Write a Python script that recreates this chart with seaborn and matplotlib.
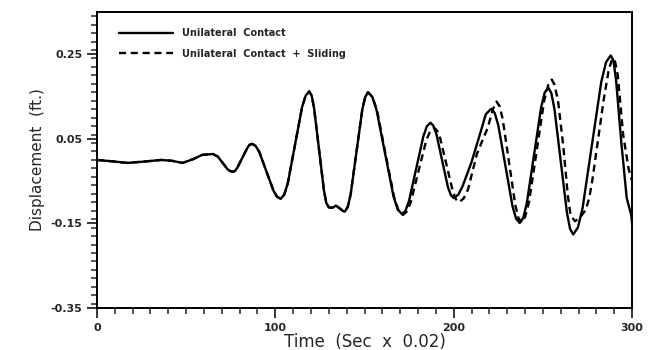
import numpy as np
import pandas as pd
import seaborn as sns
import matplotlib.pyplot as plt
from matplotlib.ticker import MultipleLocator, FixedLocator

# values (time step, displacement in ft.)
t_early = [0, 8, 17, 26, 36, 42, 48, 54, 59, 65, 67.75, 70.5, 73.25, 74.6,
           76, 77.4, 78.75, 81.5, 84.25, 85.6, 87, 89, 91, 95, 99, 101, 103,
           105, 107, 111, 115, 117, 119, 120.4, 121.75, 124.5, 127.25, 128.6,
           130, 132, 134, 136, 138, 139, 140.6, 142.25, 145.5, 148.75, 150.4,
           152]
d_early = [0.0, -0.003, -0.007, -0.004, 0.0, -0.002, -0.007, 0.002, 0.012,
           0.014, 0.008, -0.007, -0.022, -0.026, -0.028, -0.026, -0.018,
           0.005, 0.028, 0.036, 0.038, 0.033, 0.019, -0.027, -0.073, -0.087,
           -0.092, -0.082, -0.055, 0.035, 0.125, 0.152, 0.162, 0.152, 0.122,
           0.025, -0.072, -0.102, -0.112, -0.113, -0.108, -0.114, -0.121,
           -0.122, -0.111, -0.081, 0.019, 0.119, 0.149, 0.160]

t_contact_late = [154.4, 156.75, 161.5, 166.25, 168.6, 171, 173, 175, 179,
                  183, 185, 187, 188.6, 190.25, 193.5, 196.75, 198.4, 200,
                  202.6, 205, 210, 215, 218, 221, 223, 225, 229, 233, 235,
                  237, 239, 241, 245, 249, 251, 253, 254.75, 256.5, 260,
                  263.5, 265.25, 267, 269.6, 272.25, 277.5, 282.75, 285.4,
                  288, 289.5, 291, 294, 297, 299.5, 300]
d_contact_late = [0.149, 0.118, 0.016, -0.086, -0.117, -0.128, -0.120,
                  -0.096, -0.02, 0.056, 0.080, 0.088, 0.081, 0.062, -0.001,
                  -0.064, -0.083, -0.090, -0.082, -0.062, -0.005, 0.065,
                  0.108, 0.121, 0.111, 0.082, -0.014, -0.110, -0.139, -0.149,
                  -0.137, -0.102, 0.011, 0.124, 0.159, 0.171, 0.158, 0.12,
                  -0.003, -0.125, -0.163, -0.176, -0.16, -0.114, 0.036, 0.185,
                  0.231, 0.247, 0.236, 0.19, 0.04, -0.09, -0.13, -0.15]

t_sliding_late = [154.4, 157, 161.75, 166.6, 169, 171.5, 173.7, 175.9,
                  180.25, 184.6, 186.8, 189, 190.75, 192.5, 196, 199.5,
                  201.25, 203, 205.6, 208, 213, 216, 219, 222, 224, 225.75,
                  227.5, 231, 234.5, 236.25, 238, 240, 242.25, 246.5, 250.75,
                  253, 255, 256.5, 258.5, 261.5, 264, 265.5, 268, 271, 274,
                  276, 278, 281, 284, 287, 289, 290.5, 292, 295, 298, 300]
d_sliding_late = [0.149, 0.118, 0.015, -0.088, -0.119, -0.13, -0.122, -0.1,
                  -0.027, 0.046, 0.068, 0.076, 0.069, 0.05, -0.012, -0.074,
                  -0.093, -0.10, -0.091, -0.07, 0.014, 0.045, 0.075, 0.12,
                  0.138, 0.127, 0.096, -0.005, -0.106, -0.137, -0.148,
                  -0.135, -0.099, 0.021, 0.141, 0.177, 0.19, 0.178, 0.14,
                  0.03, -0.085, -0.13, -0.145, -0.135, -0.118, -0.09, -0.04,
                  0.05, 0.14, 0.215, 0.24, 0.232, 0.2, 0.06, -0.02, -0.05]

labels = ["Unilateral  Contact", "Unilateral  Contact  +  Sliding"]

df = pd.concat([
    pd.DataFrame({"t": t_early + t_contact_late,
                  "d": d_early + d_contact_late, "case": labels[0]}),
    pd.DataFrame({"t": t_early + t_sliding_late,
                  "d": d_early + d_sliding_late, "case": labels[1]}),
])

sns.set_style("ticks")
plt.rcParams["font.family"] = ["DejaVu Sans"]
plt.rcParams["axes.unicode_minus"] = False

fig = plt.figure(figsize=(6.55, 3.5), dpi=100)
ax = fig.add_axes([0.148, 0.12, 0.817, 0.846])

sns.lineplot(data=df, x="t", y="d", style="case", color="black",
             dashes={labels[0]: "", labels[1]: (3, 2)}, estimator=None,
             sort=False, linewidth=1.7, ax=ax)
for ln in ax.get_lines():
    ln.set_solid_joinstyle("round")
    ln.set_dash_joinstyle("round")

ax.set_xlim(0, 300)
ax.set_ylim(-0.35, 0.35)
ax.xaxis.set_major_locator(MultipleLocator(100))
ax.xaxis.set_minor_locator(MultipleLocator(10))
ax.yaxis.set_major_locator(FixedLocator([-0.35, -0.15, 0.05, 0.25]))
ax.yaxis.set_minor_locator(MultipleLocator(0.02))
ax.set_yticklabels(["-0.35", "-0.15", "0.05", "0.25"])

ax.tick_params(which="major", direction="out", length=7, width=1.3,
               labelsize=8)
ax.tick_params(which="minor", direction="out", length=4, width=1.1)
for lab in ax.get_xticklabels() + ax.get_yticklabels():
    lab.set_fontweight("bold")
for s in ax.spines.values():
    s.set_visible(True)
    s.set_linewidth(1.4)
    s.set_color("black")

ax.set_xlabel("Time  (Sec  x  0.02)", fontsize=12, labelpad=0)
ax.set_ylabel("Displacement  (ft.)", fontsize=11, labelpad=4)

leg = ax.legend(loc="upper left", bbox_to_anchor=(0.025, 0.975),
                frameon=False, handlelength=5.5, handletextpad=1.0,
                fontsize=7, labelspacing=1.1)
for txt in leg.get_texts():
    txt.set_fontweight("bold")

plt.savefig("out.png", dpi=100)
plt.close()
